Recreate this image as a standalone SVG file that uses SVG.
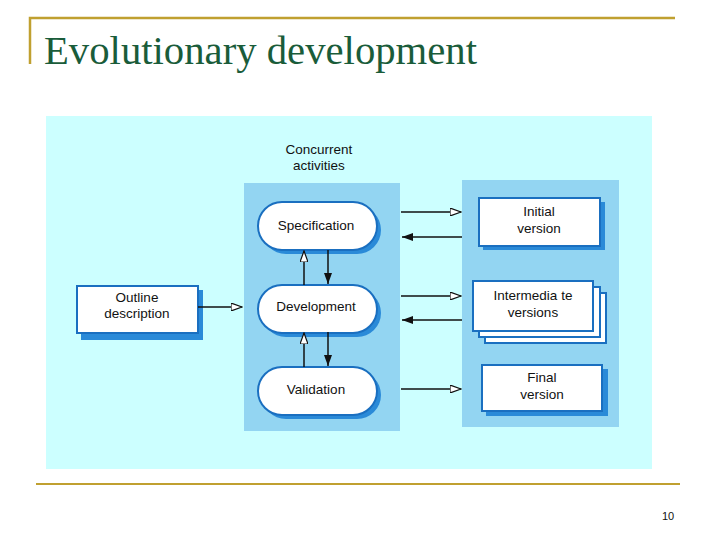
<svg xmlns="http://www.w3.org/2000/svg" width="717" height="538" viewBox="0 0 717 538">
<style>
text{font-family:"Liberation Sans",Arial,sans-serif;font-size:13.5px;fill:#111;text-anchor:middle}
.pill{fill:#fff;stroke:#1a6fc0;stroke-width:2}
.sh{fill:#2a8ad8}
.box{fill:#fff;stroke:#1a6fc0;stroke-width:2}
.ln{stroke:#111;stroke-width:1.5;fill:none}
</style>
<defs>
<marker id="open" markerWidth="12" markerHeight="8" refX="11" refY="4" orient="auto" markerUnits="userSpaceOnUse"><path d="M0,0 L11,4 L0,8 Z" fill="#fff" stroke="#111" stroke-width="1.2"/></marker>
<marker id="fill" markerWidth="12" markerHeight="8" refX="11" refY="4" orient="auto" markerUnits="userSpaceOnUse"><path d="M0,0 L11,4 L0,8 Z" fill="#111"/></marker>
</defs>
<rect width="717" height="538" fill="#fff"/>
<path d="M30,64 V18 H675" stroke="#c0a030" stroke-width="2.5" fill="none"/>
<text x="44" y="64" textLength="433" lengthAdjust="spacingAndGlyphs" style="font-family:'Liberation Serif',serif;font-size:40px;fill:#1a5c3a;text-anchor:start">Evolutionary development</text>
<line x1="36" y1="484" x2="680" y2="484" stroke="#c0a030" stroke-width="2"/>
<text x="668" y="520" style="font-size:11px">10</text>
<rect x="46" y="116" width="606" height="353" fill="#ccffff"/>
<rect x="244" y="183" width="156" height="248" fill="#93d5f2"/>
<rect x="462" y="180" width="157" height="247" fill="#93d5f2"/>
<text x="319" y="154">Concurrent</text><text x="319" y="170">activities</text>
<g id="spec"><rect class="sh" x="262" y="206" width="119" height="48" rx="24"/><rect class="pill" x="258" y="202" width="119" height="48" rx="24"/><text x="316" y="230">Specification</text></g>
<g id="dev"><rect class="sh" x="262" y="289" width="119" height="48" rx="24"/><rect class="pill" x="258" y="285" width="119" height="48" rx="24"/><text x="316" y="311">Development</text></g>
<g id="val"><rect class="sh" x="262" y="371" width="119" height="48" rx="24"/><rect class="pill" x="258" y="367" width="119" height="48" rx="24"/><text x="316" y="394">Validation</text></g>
<g id="outline"><rect class="sh" x="81" y="290" width="122" height="50"/><rect class="box" x="77" y="286" width="121" height="47"/><text x="137" y="302">Outline</text><text x="137" y="318">description</text></g>
<g id="initial"><rect class="sh" x="483" y="202" width="122" height="48"/><rect class="box" x="479" y="198" width="121" height="48"/><text x="539" y="216">Initial</text><text x="539" y="233">version</text></g>
<g id="inter"><rect class="box" x="485" y="293" width="121" height="50"/><rect class="box" x="479" y="287" width="121" height="50"/><rect class="box" x="473" y="281" width="120" height="50"/><text x="533" y="300">Intermedia te</text><text x="533" y="317">versions</text></g>
<g id="final"><rect class="sh" x="486" y="369" width="122" height="47"/><rect class="box" x="482" y="365" width="120" height="46"/><text x="542" y="382">Final</text><text x="542" y="399">version</text></g>
<g id="connectors">
<line class="ln" x1="198" y1="307" x2="242" y2="307" marker-end="url(#open)"/>
<line class="ln" x1="401" y1="212" x2="461" y2="212" marker-end="url(#open)"/>
<line class="ln" x1="462" y1="237" x2="402" y2="237" marker-end="url(#fill)"/>
<line class="ln" x1="401" y1="296" x2="461" y2="296" marker-end="url(#open)"/>
<line class="ln" x1="462" y1="320" x2="402" y2="320" marker-end="url(#fill)"/>
<line class="ln" x1="401" y1="389" x2="461" y2="389" marker-end="url(#open)"/>
<line class="ln" x1="304" y1="285" x2="304" y2="251" marker-end="url(#open)"/>
<line class="ln" x1="328" y1="250" x2="328" y2="284" marker-end="url(#fill)"/>
<line class="ln" x1="304" y1="367" x2="304" y2="333" marker-end="url(#open)"/>
<line class="ln" x1="328" y1="332" x2="328" y2="366" marker-end="url(#fill)"/>
</g>
</svg>
